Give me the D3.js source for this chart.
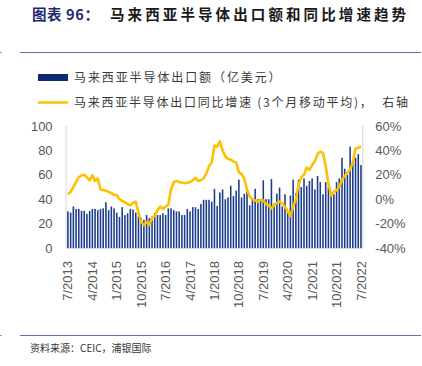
<!DOCTYPE html>
<html><head><meta charset="utf-8">
<script src="https://cdn.jsdelivr.net/npm/d3@7"></script>
<style>
html,body{margin:0;padding:0;background:#fff;}
svg{display:block;}
</style></head>
<body>
<svg id="chart" width="422" height="366"></svg>
<script>
// ---- data ----
const startYear = 2013, startMonth = 7, monthCount = 109;
const months = [];
for (let k = 0; k < monthCount; k++) {
  const m = (startMonth - 1 + k) % 12 + 1;
  const y = startYear + Math.floor((startMonth - 1 + k) / 12);
  months.push(m + "/" + y);
}
const exportValues = [
  30, 29, 34, 32, 32, 30.5, 30.5, 28, 30.5, 32, 32, 31, 32, 32.5, 37.5, 31, 34, 32.5, 29, 25.5,
  33.5, 27, 28.5, 32, 31.5, 29, 26, 24.5, 23, 27, 24.5, 23, 28.5, 27, 27, 28.5, 27, 32.5, 32.5, 31,
  30, 30, 27, 27, 32, 30, 33.5, 33.5, 32, 36, 39.5, 39.5, 39.5, 38, 48.5, 34.5, 45.5, 48, 40, 41.5,
  51, 42.5, 47, 56, 41.5, 44.5, 48.5, 35, 39.5, 48.5, 40, 39.5, 55.5, 40, 40, 56.5, 36.5, 44.5, 49.5, 34,
  44, 30, 43, 56, 45, 56, 50, 57, 51, 55, 57, 48, 59, 54, 44, 54, 50, 46, 44, 54,
  57, 74, 65, 60, 83, 70, 74, 77, 68
];
const growthMA3 = [
  4, 6, 10, 14, 18, 19.5, 20, 18, 15.5, 19.5, 15, 17, 8, 7.5, 7, 6, 5, 3.5, 3.5, 0,
  -1.5, -2.5, -4, -5, -3, -2, -11, -19, -21, -19, -21, -15, -14, -9, -6, -8, -6, -4.5, 8, 14,
  15, 14, 13.5, 13, 13.5, 14, 15.5, 17.5, 15, 15.5, 17, 21, 27, 30, 44, 43, 47.5, 40, 35, 33,
  32.5, 31, 30, 22, 20.5, 17, 8, 2, 0, -1, -2, -0.5, -1, -4, -5, -7.5, -5, -3, -2, -3.5,
  -6, -10, -13.6, -6, 0, 12, 18, 20, 26, 24, 28, 31, 37, 39, 38, 27, 13, 3, 6, 7.5,
  10, 16, 19, 21.5, 24.5, 30, 41.5, 42, 43.5
];
const xTickLabels = ["7/2013","4/2014","1/2015","10/2015","7/2016","4/2017","1/2018","10/2018","7/2019","4/2020","1/2021","10/2021","7/2022"];
const leftTicks = [0, 20, 40, 60, 80, 100];
const rightTicks = [-40, -20, 0, 20, 40, 60];
const titlePrefix = "图表 96：";
const titleMain = "马来西亚半导体出口额和同比增速趋势";
const legendBar = "马来西亚半导体出口额（亿美元）";
const legendLine = "马来西亚半导体出口同比增速 (3个月移动平均)，  右轴";
const sourceText = "资料来源：CEIC，浦银国际";

// ---- chart ----
const svg = d3.select("#chart");
const fontLatin = "'Liberation Sans', Arial, sans-serif";
const fontCJK = "'Noto Sans CJK SC', 'Noto Sans', sans-serif";

const plotL = 66.6, plotR = 362.3, plotT = 126, plotB = 248;
const x = d3.scaleBand().domain(months).range([plotL, plotR]).paddingInner(0.42).paddingOuter(0.2);
const yL = d3.scaleLinear().domain([0, 100]).range([plotB, plotT]);
const yR = d3.scaleLinear().domain([-40, 60]).range([plotB, plotT]);

// title
svg.append("text").attr("x", 32).attr("y", 20)
  .attr("font-family", fontCJK).attr("font-weight", "bold").attr("font-size", 14.5)
  .attr("letter-spacing", 0.6).attr("fill", "#1f2a6e").attr("xml:space", "preserve")
  .text(titlePrefix);
svg.append("text").attr("x", 110).attr("y", 20)
  .attr("font-family", fontCJK).attr("font-weight", "bold").attr("font-size", 14.5)
  .attr("letter-spacing", 3.1).attr("fill", "#1a1a1a")
  .text(titleMain);

// rule lines
svg.append("line").attr("x1", 20).attr("x2", 421).attr("y1", 52.5).attr("y2", 52.5)
  .attr("stroke", "#7466ad").attr("stroke-width", 1);
svg.append("line").attr("x1", 20).attr("x2", 421).attr("y1", 335.5).attr("y2", 335.5)
  .attr("stroke", "#7466ad").attr("stroke-width", 1);
svg.append("line").attr("x1", 0).attr("x2", 2).attr("y1", 52.5).attr("y2", 52.5).attr("stroke", "#9aa0b8");
svg.append("line").attr("x1", 0).attr("x2", 2).attr("y1", 335.5).attr("y2", 335.5).attr("stroke", "#9aa0b8");

// legend
svg.append("rect").attr("x", 38).attr("y", 74).attr("width", 30).attr("height", 7).attr("fill", "#0c2a74");
svg.append("text").attr("x", 74).attr("y", 81.5)
  .attr("font-family", fontCJK).attr("font-size", 12).attr("letter-spacing", 1.9).attr("fill", "#3a3a3a")
  .text(legendBar);
svg.append("line").attr("x1", 38).attr("x2", 68).attr("y1", 102.5).attr("y2", 102.5)
  .attr("stroke", "#FFC000").attr("stroke-width", 2.5);
svg.append("text").attr("x", 74).attr("y", 106.5).attr("xml:space", "preserve")
  .attr("font-family", fontCJK).attr("font-size", 12).attr("letter-spacing", 1.75).attr("fill", "#3a3a3a")
  .text(legendLine);

// axis frame lines
const frame = svg.append("g").attr("stroke", "#d9d9d9").attr("stroke-width", 1);
frame.append("line").attr("x1", plotL - 0.5).attr("x2", plotL - 0.5).attr("y1", plotT).attr("y2", plotB);
frame.append("line").attr("x1", plotR + 0.5).attr("x2", plotR + 0.5).attr("y1", plotT).attr("y2", plotB);
frame.append("line").attr("x1", plotL - 0.5).attr("x2", plotR + 0.5).attr("y1", plotB + 0.5).attr("y2", plotB + 0.5);

// bars
svg.append("g").selectAll("rect").data(exportValues).join("rect")
  .attr("x", (d, i) => x(months[i]))
  .attr("width", x.bandwidth())
  .attr("y", d => yL(d))
  .attr("height", d => yL(0) - yL(d))
  .attr("fill", "#1d3d8c");

// line
const line = d3.line()
  .x((d, i) => x(months[i]) + x.bandwidth() / 2)
  .y(d => yR(d));
svg.append("path").datum(growthMA3)
  .attr("d", line).attr("fill", "none")
  .attr("stroke", "#FFC000").attr("stroke-width", 2.6).attr("stroke-linejoin", "round");

// left axis
const axL = svg.append("g").attr("transform", `translate(${plotL},0)`)
  .call(d3.axisLeft(yL).tickValues(leftTicks).tickSize(0).tickPadding(14));
axL.select(".domain").remove();
axL.selectAll("text").attr("font-family", fontLatin).attr("font-size", 13).attr("fill", "#595959");

// right axis
const axR = svg.append("g").attr("transform", `translate(${plotR},0)`)
  .call(d3.axisRight(yR).tickValues(rightTicks).tickSize(0).tickPadding(13).tickFormat(d => d + "%"));
axR.select(".domain").remove();
axR.selectAll("text").attr("font-family", fontLatin).attr("font-size", 13).attr("fill", "#595959");

// x axis
const axX = svg.append("g").attr("transform", `translate(0,${plotB})`)
  .call(d3.axisBottom(x).tickValues(xTickLabels).tickSize(0).tickPadding(0));
axX.select(".domain").remove();
axX.selectAll("text")
  .attr("font-family", fontLatin).attr("font-size", 13).attr("fill", "#595959")
  .attr("text-anchor", "end").attr("dy", "0.35em").attr("y", 0)
  .attr("transform", "translate(0,13) rotate(-90)");

// source
svg.append("text").attr("x", 30).attr("y", 351.5)
  .attr("font-family", fontCJK).attr("font-size", 10).attr("fill", "#333")
  .text(sourceText);
</script>
</body></html>
